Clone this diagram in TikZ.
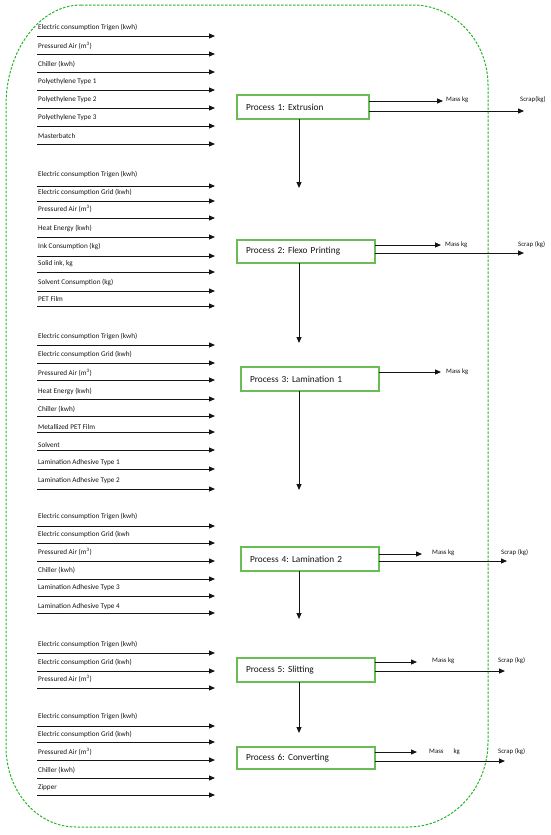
\documentclass[tikz,border=0pt]{standalone}
\usepackage{fontspec}
\setmainfont{Carlito}
\usetikzlibrary{arrows.meta}
\definecolor{boxgreen}{RGB}{104,190,84}
\definecolor{dashgreen}{RGB}{40,180,40}
\definecolor{ink}{RGB}{20,20,20}
\newcommand{\airunit}{(m\textsuperscript{3})}
\newcommand{\inputgroup}[2]{%
  \foreach \ay/\ly/\txt [count=\i] in {#2}{%
    \coordinate (#1s\i) at (37,\ay);
    \coordinate (#1e\i) at (215,\ay);
    \draw[flow] (#1s\i) -- (#1e\i);
    \node[inlabel] (#1l\i) at (38,\ly) {\txt};
  }%
}
\frenchspacing
\begin{document}
\begin{tikzpicture}[x=1pt,y=-1pt,
  flow/.style={-{Triangle[length=6pt,width=5pt]}, line width=0.95pt, draw=ink},
  inlabel/.style={font=\fontsize{7.2}{8}\selectfont, inner sep=0pt, anchor=west, text=ink},
  outlabel/.style={font=\fontsize{6.8}{8}\selectfont, inner sep=0pt, anchor=west, text=ink},
  proc/.style={draw=boxgreen, line width=2pt, outer sep=0pt, minimum height=24pt, inner xsep=9pt, inner ysep=0pt,
    text width=#1, align=left, font=\fontsize{9.3}{11}\selectfont, anchor=north west, text=ink},
  frame/.style={draw=dashgreen, dash pattern=on 2.5pt off 1.5pt, line width=1pt}]

\useasboundingbox (0,0) rectangle (550,835);

% dashed system boundary
\draw[frame] (81,5) -- (413,5)
  .. controls (454,5) and (488,41) .. (488,85)
  -- (488,742)
  .. controls (488,789) and (452,827) .. (408,827)
  -- (76,827)
  .. controls (37,827) and (6,791) .. (6,747)
  -- (6,105)
  .. controls (6,50) and (40,5) .. (81,5) -- cycle;

% input groups
\inputgroup{ga}{36/27/Electric consumption Trigen (kwh), 54/46/Pressured Air \airunit, 72/64/Chiller (kwh),
  90/82/Polyethylene Type 1, 108/100/Polyethylene Type 2, 126/118/Polyethylene Type 3, 144/136/Masterbatch}
\inputgroup{gb}{186/174/Electric consumption Trigen (kwh), 201/192/Electric consumption Grid (kwh),
  218/209/Pressured Air \airunit, 237/228/Heat Energy (kwh), 256/246/Ink Consumption (kg),
  272/264/{Solid ink, kg}, 291/282/Solvent Consumption (kg), 306/299/PET Film}
\inputgroup{gc}{345/336/Electric consumption Trigen (kwh), 363/354/Electric consumption Grid (kwh),
  380/373/Pressured Air \airunit, 399/391/Heat Energy (kwh), 416/409/Chiller (kwh),
  432/427/Metallized PET Film, 450/445/Solvent, 469/463/Lamination Adhesive Type 1, 489/481/Lamination Adhesive Type 2}
\inputgroup{gd}{526/516/Electric consumption Trigen (kwh), 543/534/Electric consumption Grid (kwh,
  561/552/Pressured Air \airunit, 579/570/Chiller (kwh), 596/588/Lamination Adhesive Type 3, 613/607/Lamination Adhesive Type 4}
\inputgroup{ge}{653/644/Electric consumption Trigen (kwh), 671/662/Electric consumption Grid (kwh), 688/679/Pressured Air \airunit}
\inputgroup{gf}{726/716/Electric consumption Trigen (kwh), 742/734/Electric consumption Grid (kwh),
  760/752/Pressured Air \airunit, 778/770/Chiller (kwh), 795/788/Zipper}

% processes
\node[proc=114pt] (p1) at (237,95) {Process 1: Extrusion};
\node[proc=120pt, minimum height=23pt] (p2) at (237,240) {Process 2: Flexo Printing};
\node[proc=120pt] (p3) at (241,367) {Process 3: Lamination 1};
\node[proc=120pt] (p4) at (241,547) {Process 4: Lamination 2};
\node[proc=120pt] (p5) at (237,658) {Process 5: Slitting};
\node[proc=120pt, minimum height=22pt] (p6) at (237,747) {Process 6: Converting};

% outputs
\coordinate (m1) at (443,101); \draw[flow] (p1.east |- m1) -- (m1);
\node[outlabel] (ml1) at (446,100) {Mass kg};
\coordinate (s1) at (524,111); \draw[flow] (p1.east |- s1) -- (s1);
\node[outlabel] (sl1) at (520,100) {Scrap(kg)};

\coordinate (m2) at (441,245); \draw[flow] (p2.east |- m2) -- (m2);
\node[outlabel] (ml2) at (445,245) {Mass kg};
\coordinate (s2) at (524,253); \draw[flow] (p2.east |- s2) -- (s2);
\node[outlabel] (sl2) at (518,245) {Scrap (kg)};

\coordinate (m3) at (441,372); \draw[flow] (p3.east |- m3) -- (m3);
\node[outlabel] (ml3) at (446,372) {Mass kg};

\coordinate (m4) at (422,554); \draw[flow] (p4.east |- m4) -- (m4);
\node[outlabel] (ml4) at (432,553) {Mass kg};
\coordinate (s4) at (507,561); \draw[flow] (p4.east |- s4) -- (s4);
\node[outlabel] (sl4) at (501,553) {Scrap (kg)};

\coordinate (m5) at (417,662); \draw[flow] (p5.east |- m5) -- (m5);
\node[outlabel] (ml5) at (432,661) {Mass kg};
\coordinate (s5) at (505,671); \draw[flow] (p5.east |- s5) -- (s5);
\node[outlabel] (sl5) at (498,661) {Scrap (kg)};

\coordinate (m6) at (417,752); \draw[flow] (p6.east |- m6) -- (m6);
\node[outlabel] (ml6) at (429,752) {Mass\hspace{10pt}kg};
\coordinate (s6) at (505,761); \draw[flow] (p6.east |- s6) -- (s6);
\node[outlabel] (sl6) at (498,752) {Scrap (kg)};

% downward flows
\coordinate (d1) at (299,188); \draw[flow] (p1.south -| d1) -- (d1);
\coordinate (d2) at (299,343); \draw[flow] (p2.south -| d2) -- (d2);
\coordinate (d3) at (299,490); \draw[flow] (p3.south -| d3) -- (d3);
\coordinate (d4) at (299,619); \draw[flow] (p4.south -| d4) -- (d4);
\coordinate (d5) at (299,733); \draw[flow] (p5.south -| d5) -- (d5);
\end{tikzpicture}
\end{document}
